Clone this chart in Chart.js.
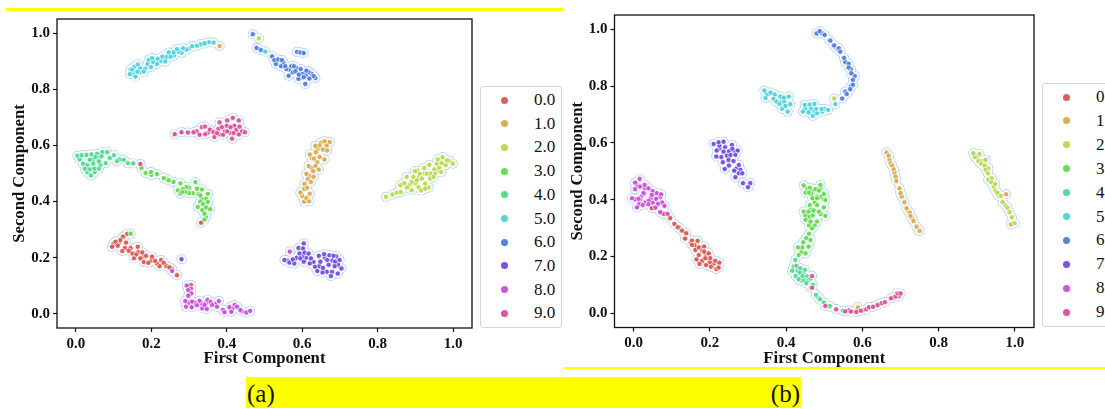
<!DOCTYPE html>
<html>
<head>
<meta charset="utf-8">
<script src="https://cdn.jsdelivr.net/npm/chart.js@4/dist/chart.umd.min.js"></script>
<style>
html, body { margin: 0; padding: 0; width: 1105px; height: 409px; overflow: hidden; background: #fff; }
canvas { position: absolute; }
.bar { position: absolute; background: #ffff00; }
#caption { position: absolute; left: 246px; top: 377px; width: 555px; height: 31px; background: #ffff00;
  font: 25px "Liberation Serif", serif; color: #111; line-height: 33px; }
#caption span { position: absolute; }
.legendBox { position: absolute; border: 1px solid #d4d4d4; border-radius: 3px; background: #fff; box-sizing: border-box; }
.dot { position: absolute; width: 7px; height: 7px; border-radius: 50%; }
.lab { position: absolute; font: 17px "Liberation Serif", serif; color: #111; line-height: 20px; white-space: nowrap; }
</style>
</head>
<body>
<div class="bar" style="left:6px;top:8px;width:557px;height:3px"></div>
<div class="bar" style="left:564px;top:367px;width:541px;height:2px"></div>
<canvas id="chartA" width="480" height="370" style="left:0;top:0"></canvas>
<canvas id="chartB" width="480" height="370" style="left:563px;top:0"></canvas>
<div id="legendA" class="legendBox" style="left:480px;top:86px;width:82px;height:242px"></div>
<div id="legendB" class="legendBox" style="left:1042px;top:83px;width:82px;height:244px"></div>
<div id="caption"><span style="left:1px">(a)</span><span style="right:1px">(b)</span></div>
<script>
const classLabels = ['0.0', '1.0', '2.0', '3.0', '4.0', '5.0', '6.0', '7.0', '8.0', '9.0'];
const classColors = ['#db5f57', '#dbae57', '#b9db57', '#69db57', '#57db94', '#57d3db', '#5784db', '#7957db', '#c957db', '#db579e'];
const tickValues = [0, 0.2, 0.4, 0.6, 0.8, 1];

// panel (a)
const a0 = [[.1,.25],[.115,.255],[.13,.235],[.15,.215],[.165,.22],[.18,.205],[.2,.19],[.215,.18],[.24,.17],[.18,.185],[.145,.235],[.255,.16],[.136,.285],[.125,.275],[.118,.263],[.133,.254],[.105,.257],[.096,.239],[.111,.243],[.123,.224],[.14,.225],[.164,.239],[.16,.212],[.171,.198],[.186,.207],[.192,.182],[.21,.189],[.226,.192],[.233,.182],[.222,.17],[.248,.166],[.268,.138],[.154,.198],[.176,.219],[.202,.204],[.305,.103],[.332,.325]];
const a1 = [[.64,.585],[.65,.61],[.665,.6],[.625,.555],[.64,.54],[.625,.52],[.62,.49],[.615,.48],[.605,.445],[.6,.42],[.605,.4],[.673,.612],[.659,.615],[.646,.6],[.655,.585],[.635,.598],[.636,.576],[.62,.568],[.666,.582],[.646,.559],[.659,.55],[.631,.553],[.635,.527],[.617,.527],[.644,.514],[.629,.508],[.611,.499],[.63,.488],[.623,.47],[.606,.463],[.613,.449],[.595,.432],[.62,.428],[.611,.412],[.618,.401],[.381,.954]];
const a2 = [[.87,.465],[.885,.46],[.9,.465],[.91,.49],[.905,.51],[.925,.5],[.94,.5],[.955,.51],[.965,.54],[.98,.53],[.99,.545],[.95,.515],[.915,.44],[.935,.45],[.822,.417],[.839,.425],[.851,.432],[.861,.434],[.86,.458],[.878,.45],[.877,.488],[.89,.44],[.899,.508],[.912,.499],[.923,.52],[.917,.482],[.93,.499],[.926,.464],[.908,.452],[.939,.482],[.952,.499],[.963,.52],[.957,.535],[.937,.531],[.97,.537],[.984,.547],[.972,.558],[.999,.535],[.959,.55],[.968,.505],[.948,.488],[.89,.47],[.895,.488],[.926,.446],[.904,.476],[.485,.981]];
const a3 = [[.2,.495],[.24,.48],[.3,.45],[.31,.43],[.335,.41],[.33,.4],[.345,.41],[.335,.37],[.345,.345],[.27,.44],[.3,.43],[.174,.52],[.185,.502],[.199,.505],[.215,.498],[.233,.484],[.246,.476],[.259,.47],[.277,.465],[.293,.452],[.284,.445],[.317,.469],[.321,.446],[.334,.443],[.35,.428],[.277,.428],[.29,.434],[.325,.426],[.282,.434],[.33,.422],[.323,.381],[.337,.391],[.35,.399],[.345,.379],[.356,.373],[.341,.357],[.341,.336],[.145,.286]];
const a4 = [[.01,.55],[.03,.53],[.045,.55],[.06,.56],[.065,.53],[.03,.505],[.09,.555],[.115,.55],[.05,.505],[.004,.563],[.015,.565],[.028,.566],[.041,.568],[.056,.57],[.07,.576],[.083,.576],[.101,.565],[.109,.544],[.127,.549],[.138,.537],[.152,.536],[.019,.535],[.037,.549],[.052,.559],[.046,.535],[.061,.543],[.079,.537],[.024,.517],[.037,.515],[.049,.517],[.061,.517],[.04,.493],[.068,.561]];
const a5 = [[.15,.855],[.17,.875],[.19,.89],[.21,.905],[.225,.9],[.24,.915],[.26,.92],[.28,.93],[.3,.945],[.33,.96],[.17,.86],[.155,.88],[.145,.87],[.353,.967],[.365,.966],[.341,.963],[.321,.955],[.308,.953],[.293,.941],[.284,.946],[.272,.934],[.259,.931],[.246,.931],[.251,.916],[.237,.899],[.229,.916],[.217,.908],[.205,.897],[.193,.905],[.199,.879],[.184,.873],[.18,.863],[.164,.888],[.149,.87],[.143,.854],[.163,.862],[.158,.845],[.215,.89],[.202,.911],[.268,.943],[.502,.934]];
const a6 = [[.49,.94],[.53,.89],[.55,.895],[.565,.87],[.575,.86],[.585,.875],[.6,.855],[.61,.85],[.625,.855],[.595,.84],[.635,.84],[.469,.996],[.479,.947],[.52,.917],[.526,.904],[.536,.906],[.546,.904],[.544,.882],[.558,.872],[.571,.882],[.582,.864],[.59,.837],[.564,.848],[.596,.872],[.591,.852],[.604,.843],[.608,.819],[.617,.862],[.63,.847],[.619,.838],[.611,.866],[.586,.933],[.595,.931],[.604,.929],[.555,.882],[.578,.882]];
const a7 = [[.585,.2],[.59,.235],[.61,.2],[.63,.185],[.645,.17],[.66,.2],[.67,.175],[.68,.19],[.665,.15],[.695,.175],[.69,.205],[.62,.18],[.6,.205],[.56,.19],[.553,.192],[.566,.183],[.579,.18],[.575,.194],[.593,.215],[.604,.251],[.602,.233],[.606,.218],[.617,.215],[.595,.198],[.604,.186],[.623,.198],[.644,.207],[.658,.213],[.648,.186],[.634,.168],[.64,.153],[.654,.148],[.655,.164],[.672,.209],[.683,.207],[.666,.192],[.687,.186],[.699,.192],[.704,.162],[.686,.17],[.679,.15],[.676,.135],[.694,.144],[.28,.195]];
const a8 = [[.3,.04],[.315,.04],[.335,.035],[.345,.04],[.37,.035],[.39,.015],[.44,.01],[.415,.02],[.305,.09],[.294,.101],[.298,.085],[.306,.073],[.298,.065],[.29,.046],[.292,.026],[.308,.044],[.321,.031],[.328,.047],[.307,.024],[.335,.02],[.347,.018],[.349,.05],[.357,.043],[.374,.026],[.379,.046],[.361,.032],[.394,.006],[.407,.024],[.412,.008],[.421,.032],[.427,.026],[.436,.014],[.452,.005],[.462,.011],[.341,.032],[.255,.153],[.567,.222]];
const a9 = [[.32,.65],[.35,.645],[.38,.64],[.4,.67],[.42,.67],[.395,.65],[.41,.645],[.425,.655],[.44,.65],[.262,.64],[.28,.647],[.297,.646],[.312,.647],[.328,.638],[.334,.665],[.342,.667],[.355,.656],[.343,.64],[.365,.647],[.367,.63],[.378,.659],[.374,.644],[.381,.682],[.39,.638],[.401,.689],[.416,.698],[.432,.689],[.41,.665],[.401,.65],[.414,.624],[.434,.667],[.418,.644],[.432,.639],[.448,.647],[.387,.665],[.171,.534]];

// panel (b)
const b0 = [[.15,.25],[.16,.24],[.18,.22],[.19,.205],[.165,.19],[.18,.185],[.21,.175],[.2,.18],[.12,.3],[.096,.335],[.107,.315],[.116,.303],[.127,.291],[.138,.282],[.135,.263],[.153,.256],[.168,.255],[.153,.241],[.162,.223],[.171,.232],[.185,.235],[.185,.217],[.171,.205],[.197,.211],[.201,.194],[.188,.194],[.173,.174],[.19,.17],[.203,.164],[.214,.185],[.225,.178],[.217,.156],[.223,.161],[.079,.35],[.048,.37]];
const b1 = [[.671,.54],[.684,.495],[.7,.425],[.72,.36],[.73,.335],[.663,.566],[.669,.555],[.674,.528],[.678,.52],[.682,.507],[.687,.481],[.689,.466],[.697,.44],[.703,.411],[.71,.391],[.716,.37],[.725,.354],[.726,.343],[.734,.325],[.742,.305],[.75,.29],[.7,.423],[.588,.021],[.977,.419],[.99,.313]];
const b2 = [[.9,.55],[.915,.535],[.93,.51],[.93,.47],[.945,.445],[.955,.42],[.975,.38],[.895,.55],[.891,.563],[.907,.561],[.904,.536],[.912,.526],[.923,.54],[.921,.52],[.923,.505],[.929,.493],[.939,.475],[.938,.461],[.948,.455],[.949,.431],[.958,.413],[.954,.425],[.963,.413],[.968,.391],[.98,.372],[.986,.356],[.992,.338],[.999,.317],[.526,.756]];
const b3 = [[.455,.44],[.47,.43],[.49,.44],[.49,.41],[.475,.39],[.465,.365],[.49,.35],[.46,.34],[.475,.31],[.46,.28],[.445,.25],[.44,.215],[.47,.345],[.46,.31],[.45,.345],[.446,.45],[.462,.442],[.477,.437],[.49,.452],[.451,.425],[.466,.42],[.486,.432],[.499,.423],[.481,.411],[.499,.401],[.46,.425],[.499,.42],[.481,.405],[.469,.405],[.503,.399],[.462,.381],[.481,.381],[.499,.373],[.446,.358],[.459,.358],[.472,.362],[.486,.358],[.503,.343],[.451,.329],[.464,.323],[.481,.323],[.468,.299],[.453,.265],[.464,.258],[.442,.232],[.431,.232],[.459,.235],[.451,.211],[.433,.205]];
const b4 = [[.42,.165],[.43,.15],[.445,.14],[.44,.115],[.455,.13],[.47,.1],[.465,.09],[.485,.055],[.424,.188],[.427,.167],[.416,.15],[.437,.158],[.449,.153],[.436,.143],[.425,.131],[.446,.117],[.459,.117],[.453,.106],[.464,.123],[.478,.065],[.489,.049],[.499,.038],[.514,.023],[.443,.131],[.433,.12],[.515,.026],[.549,.009]];
const b5 = [[.35,.77],[.37,.77],[.39,.745],[.395,.745],[.45,.72],[.465,.72],[.475,.71],[.495,.71],[.5,.72],[.39,.72],[.343,.784],[.359,.777],[.346,.758],[.367,.755],[.385,.763],[.375,.745],[.383,.737],[.394,.759],[.407,.763],[.411,.736],[.398,.73],[.404,.71],[.449,.734],[.462,.735],[.474,.737],[.479,.719],[.444,.71],[.459,.707],[.47,.695],[.481,.704],[.493,.719],[.51,.716],[.529,.736]];
const b6 = [[.48,.985],[.495,.985],[.53,.935],[.555,.885],[.57,.86],[.58,.835],[.57,.8],[.555,.78],[.488,.993],[.501,.98],[.514,.96],[.525,.942],[.536,.93],[.516,.96],[.526,.943],[.538,.933],[.542,.921],[.552,.899],[.564,.878],[.564,.865],[.571,.845],[.575,.822],[.575,.804],[.568,.789],[.559,.772],[.547,.756]];
const b7 = [[.225,.58],[.24,.585],[.25,.57],[.23,.55],[.25,.52],[.27,.51],[.28,.505],[.225,.59],[.265,.57],[.21,.596],[.223,.602],[.236,.604],[.258,.593],[.273,.573],[.236,.569],[.218,.573],[.217,.552],[.245,.555],[.259,.579],[.267,.558],[.234,.532],[.249,.54],[.262,.536],[.276,.522],[.239,.508],[.264,.502],[.276,.493],[.285,.493],[.267,.479],[.287,.458],[.306,.458],[.3,.444],[.254,.557]];
const b8 = [[.01,.45],[.03,.44],[.05,.43],[.02,.41],[.03,.39],[.05,.39],[.07,.41],[.075,.39],[.015,.385],[.045,.405],[.016,.473],[.004,.46],[.004,.437],[.017,.446],[.029,.452],[.039,.44],[.028,.423],[.048,.417],[.061,.423],[.072,.419],[.004,.401],[.017,.401],[-.004,.405],[.013,.403],[.026,.423],[.04,.396],[.059,.403],[.024,.381],[.039,.384],[.009,.373],[.064,.385],[.081,.378],[.07,.356],[.089,.35],[.057,.372]];
const b9 = [[.565,.01],[.605,.012],[.65,.035],[.68,.055],[.695,.06],[.69,.07],[.468,.131],[.468,.09],[.503,.026],[.532,.014],[.531,.014],[.555,.007],[.57,.006],[.584,.005],[.596,.009],[.61,.014],[.617,.021],[.628,.023],[.64,.029],[.659,.039],[.675,.053],[.687,.059],[.693,.069],[.7,.07]];

// draws the top/right spines too, chart.js only gives us the scale borders
const frame = {
    id: 'frame',
    afterDraw(chart) {
        const a = chart.chartArea, ctx = chart.ctx;
        ctx.save();
        ctx.strokeStyle = '#111';
        ctx.lineWidth = 1.3;
        ctx.strokeRect(a.left, a.top, a.right - a.left, a.bottom - a.top);
        ctx.restore();
    }
};

function makeChart(id, groups, box) {
    const all = groups.flat();
    // halo and white rim go under the coloured dots
    const datasets = [
        { data: all, order: 20, pointRadius: 5, backgroundColor: '#a6cdea', borderWidth: 0 },
        { data: all, order: 19, pointRadius: 4.3, backgroundColor: '#fff', borderWidth: 0 }
    ];
    groups.forEach(function (g, i) {
        datasets.push({ data: g, order: 18 - i, pointRadius: 2.6, backgroundColor: classColors[i], borderColor: '#fff', borderWidth: 0.7 });
    });
    const tickFont = { family: '"Liberation Serif"', size: 15, weight: 'bold' };
    const titleFont = { family: '"Liberation Serif"', size: 16.7, weight: 'bold' };
    function axis(text, pad) {
        return {
            type: 'linear', min: -0.05, max: 1.05,
            border: { display: false },
            grid: { drawOnChartArea: false, tickLength: 4, tickColor: '#111', tickWidth: 1.2 },
            afterBuildTicks: function (s) { s.ticks = tickValues.map(function (v) { return { value: v }; }); },
            ticks: { color: '#111', font: tickFont, padding: 3, maxRotation: 0, autoSkip: false, callback: function (v) { return v.toFixed(1); } },
            title: { display: true, text: text, color: '#111', font: titleFont, padding: pad }
        };
    }
    const x = axis('First Component', { top: 0, bottom: 1 });
    const y = axis('Second Component', { top: box.titlePad, bottom: 0 });
    x.afterFit = function (s) { s.height = 370 - box.bottom; };
    y.afterFit = function (s) { s.width = box.left; };
    return new Chart(document.getElementById(id), {
        type: 'scatter',
        data: { datasets: datasets },
        options: {
            responsive: false,
            animation: false,
            layout: { padding: { top: box.top, right: 480 - box.right, left: 0, bottom: 0 } },
            plugins: { legend: { display: false }, tooltip: { enabled: false } },
            scales: { x: x, y: y }
        },
        plugins: [frame]
    });
}

makeChart('chartA', [a0, a1, a2, a3, a4, a5, a6, a7, a8, a9], { left: 57, right: 472, top: 19, bottom: 328, titlePad: 10 });
makeChart('chartB', [b0, b1, b2, b3, b4, b5, b6, b7, b8, b9], { left: 51.5, right: 471, top: 15, bottom: 327.5, titlePad: 5 });

// legends sit outside the axes, so plain html rows
function makeLegend(id, firstY, step, dotX, textX) {
    const el = document.getElementById(id);
    classLabels.forEach(function (lab, i) {
        const y = firstY + i * step;
        const d = document.createElement('div');
        d.className = 'dot';
        d.style.cssText = 'left:' + (dotX - 3.5) + 'px;top:' + (y - 3.5) + 'px;background:' + classColors[i];
        el.appendChild(d);
        const t = document.createElement('div');
        t.className = 'lab';
        t.textContent = lab;
        t.style.left = textX + 'px';
        t.style.top = (y - 10) + 'px';
        el.appendChild(t);
    });
}
makeLegend('legendA', 13, 23.7, 23, 53);
makeLegend('legendB', 13, 23.9, 23, 53);
</script>
</body>
</html>
